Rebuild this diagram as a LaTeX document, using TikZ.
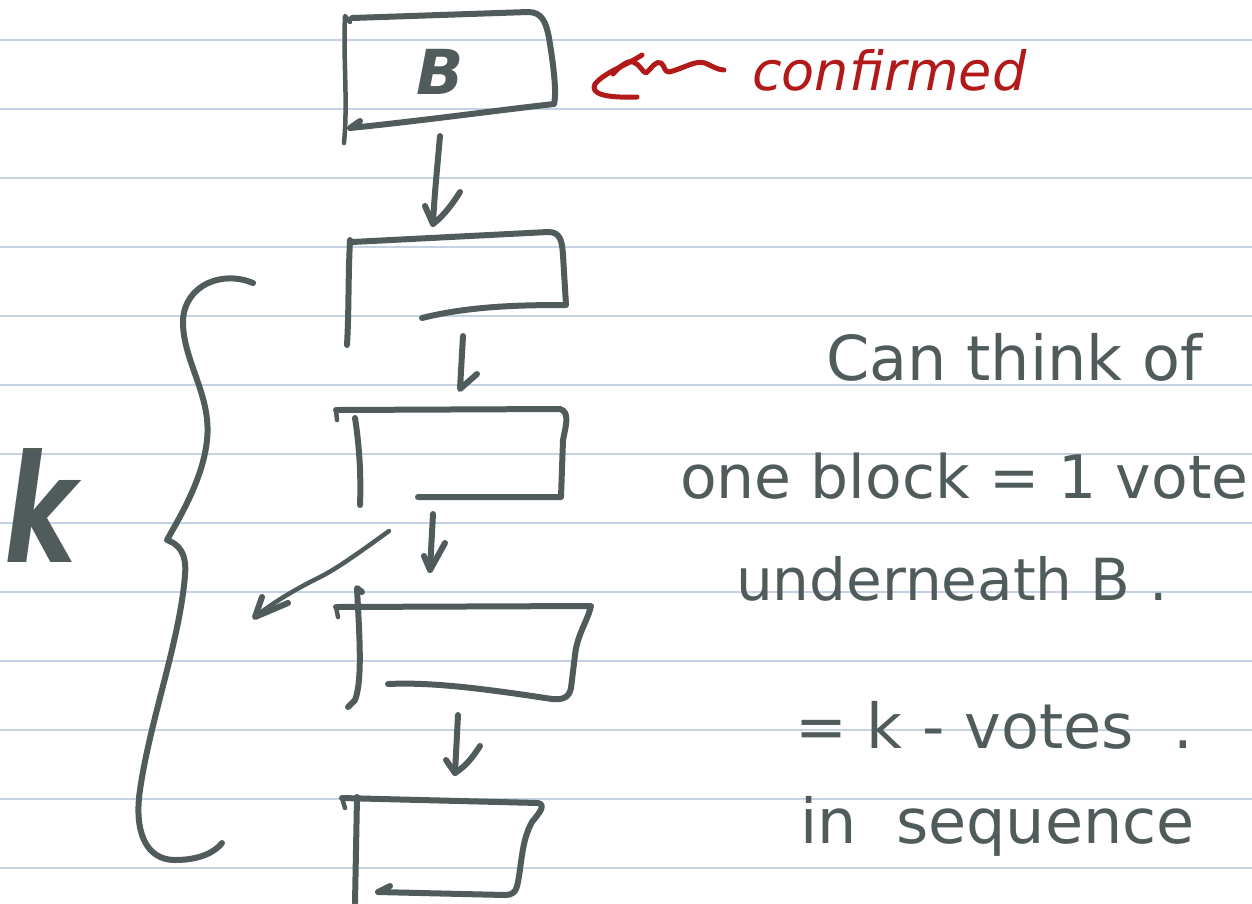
\documentclass[tikz,border=0pt]{standalone}
\usepackage{fontspec}
\setmainfont{DejaVu Sans}
\definecolor{ink}{RGB}{80,92,92}
\definecolor{redink}{RGB}{178,26,26}
\definecolor{rulecol}{RGB}{197,210,228}
\begin{document}
\begin{tikzpicture}[x=1pt,y=-1pt,
  pen/.style={draw=ink,line width=6pt,line cap=round,line join=round},
  thinpen/.style={draw=ink,line width=4.5pt,line cap=round,line join=round},
  redpen/.style={draw=redink,line width=5pt,line cap=round,line join=round},
  hand/.style={text=ink,font=\fontsize{62}{70}\selectfont,anchor=base west,inner sep=0pt},
  ruled/.style={draw=rulecol,line width=1.6pt}]
\useasboundingbox (0,0) rectangle (1252,903);
\fill[white] (0,0) rectangle (1252,903);
\foreach \y in {40,109,...,868} \draw[ruled] (0,\y) -- (1252,\y);

% ---------- box B ----------
\draw[thinpen] (350,22) -- (345,16) .. controls (343,60) and (348,100) .. (344,143);
\draw[pen] (352,18) -- (528,12) .. controls (542,12) and (546,22) .. (549,38)
   .. controls (553,62) and (557,92) .. (554,104)
   .. controls (500,110) and (420,121) .. (350,128) -- (360,121);
\node[text=ink,font=\fontsize{62}{70}\selectfont\bfseries\itshape] (B) at (440,72) {B};

% ---------- box 2 ----------
\draw[pen] (350,240) .. controls (348,280) and (349,310) .. (347,345);
\draw[pen] (352,242) -- (548,232) .. controls (560,232) and (562,240) .. (563,255) -- (566,305)
   .. controls (520,305) and (470,306) .. (422,318);

% ---------- box 3 ----------
\draw[thinpen] (337,420) -- (336,410);
\draw[pen] (336,410) -- (560,409) .. controls (570,412) and (566,425) .. (563,440) -- (561,497) -- (418,497);
\draw[pen] (355,418) .. controls (360,450) and (361,480) .. (360,505);

% ---------- box 4 ----------
\draw[thinpen] (338,617) -- (336,607);
\draw[pen] (336,607) -- (591,606) .. controls (588,620) and (577,635) .. (575,655) -- (571,688)
   .. controls (569,698) and (562,700) .. (552,699)
   .. controls (480,688) and (430,682) .. (388,684);
\draw[pen] (362,592) -- (357,588) .. controls (359,630) and (363,680) .. (355,700) -- (348,707);

% ---------- box 5 ----------
\draw[thinpen] (345,808) -- (342,798);
\draw[pen] (342,798) -- (538,803) .. controls (546,805) and (540,812) .. (532,822)
   .. controls (522,840) and (522,860) .. (518,882) .. controls (516,893) and (512,895) .. (505,895)
   -- (378,892) -- (390,886);
\draw[pen] (357,797) -- (355,903);

% ---------- vertical arrows ----------
\coordinate (a1s) at (440,136); \coordinate (a1e) at (433,224);
\draw[pen] (a1s) .. controls (437,170) and (434,200) .. (a1e);
\draw[pen] (425,206) -- (a1e) .. controls (445,215) and (455,200) .. (460,192);

\coordinate (a2s) at (463,336); \coordinate (a2e) at (460,389);
\draw[pen] (a2s) -- (a2e) -- (477,374);

\coordinate (a3s) at (433,514); \coordinate (a3e) at (430,570);
\draw[pen] (a3s) -- (a3e);
\draw[pen] (424,556) -- (a3e) -- (445,543);

\coordinate (a4s) at (458,715); \coordinate (a4e) at (455,773);
\draw[pen] (a4s) -- (a4e);
\draw[pen] (446,760) -- (a4e) .. controls (468,765) and (476,752) .. (480,746);

% ---------- diagonal arrow ----------
\coordinate (ds) at (389,531); \coordinate (de) at (255,617);
\draw[thinpen] (ds) .. controls (360,552) and (335,570) .. (318,578)
   .. controls (290,592) and (270,605) .. (de);
\draw[pen] (262,597) -- (de) -- (288,603);

% ---------- brace ----------
\draw[pen] (253,283) .. controls (222,270) and (185,285) .. (183,320)
  .. controls (182,360) and (212,395) .. (207,440)
  .. controls (203,480) and (178,520) .. (167,540)
  .. controls (178,544) and (187,552) .. (185,575)
  .. controls (180,640) and (150,720) .. (140,790)
  .. controls (134,830) and (145,860) .. (175,860)
  .. controls (200,860) and (215,852) .. (222,843);

\node[text=ink,font=\fontsize{150}{160}\selectfont\bfseries\itshape,anchor=base west,inner sep=0pt] (k) at (4,562) {\scalebox{0.72}[1]{k}};

% ---------- red note ----------
\draw[redpen] (642,55) .. controls (625,66) and (605,72) .. (595,84)
   .. controls (590,94) and (605,98) .. (637,97);
\draw[redpen] (613,74) .. controls (620,66) and (628,60) .. (633,62)
   .. controls (640,64) and (642,72) .. (646,73)
   .. controls (652,68) and (656,60) .. (661,63)
   .. controls (665,66) and (664,72) .. (669,72)
   .. controls (685,68) and (695,60) .. (705,63)
   .. controls (712,66) and (718,70) .. (724,70);
\node[text=redink,font=\fontsize{54}{60}\selectfont\itshape,anchor=base west,inner sep=0pt] (conf) at (752,90) {confirmed};

% ---------- handwritten explanation ----------
\node[hand] (t1) at (826,380) {Can think of};
\node[hand,font=\fontsize{60}{66}\selectfont] (t2) at (680,498) {one block = 1 vote};
\node[hand,font=\fontsize{58}{64}\selectfont] (t3) at (736,600) {underneath B .};
\node[hand] (t4) at (795,748) {=\ k\ -\ votes\ \ .};
\node[hand] (t5) at (800,843) {in\ \ sequence};
\end{tikzpicture}
\end{document}
